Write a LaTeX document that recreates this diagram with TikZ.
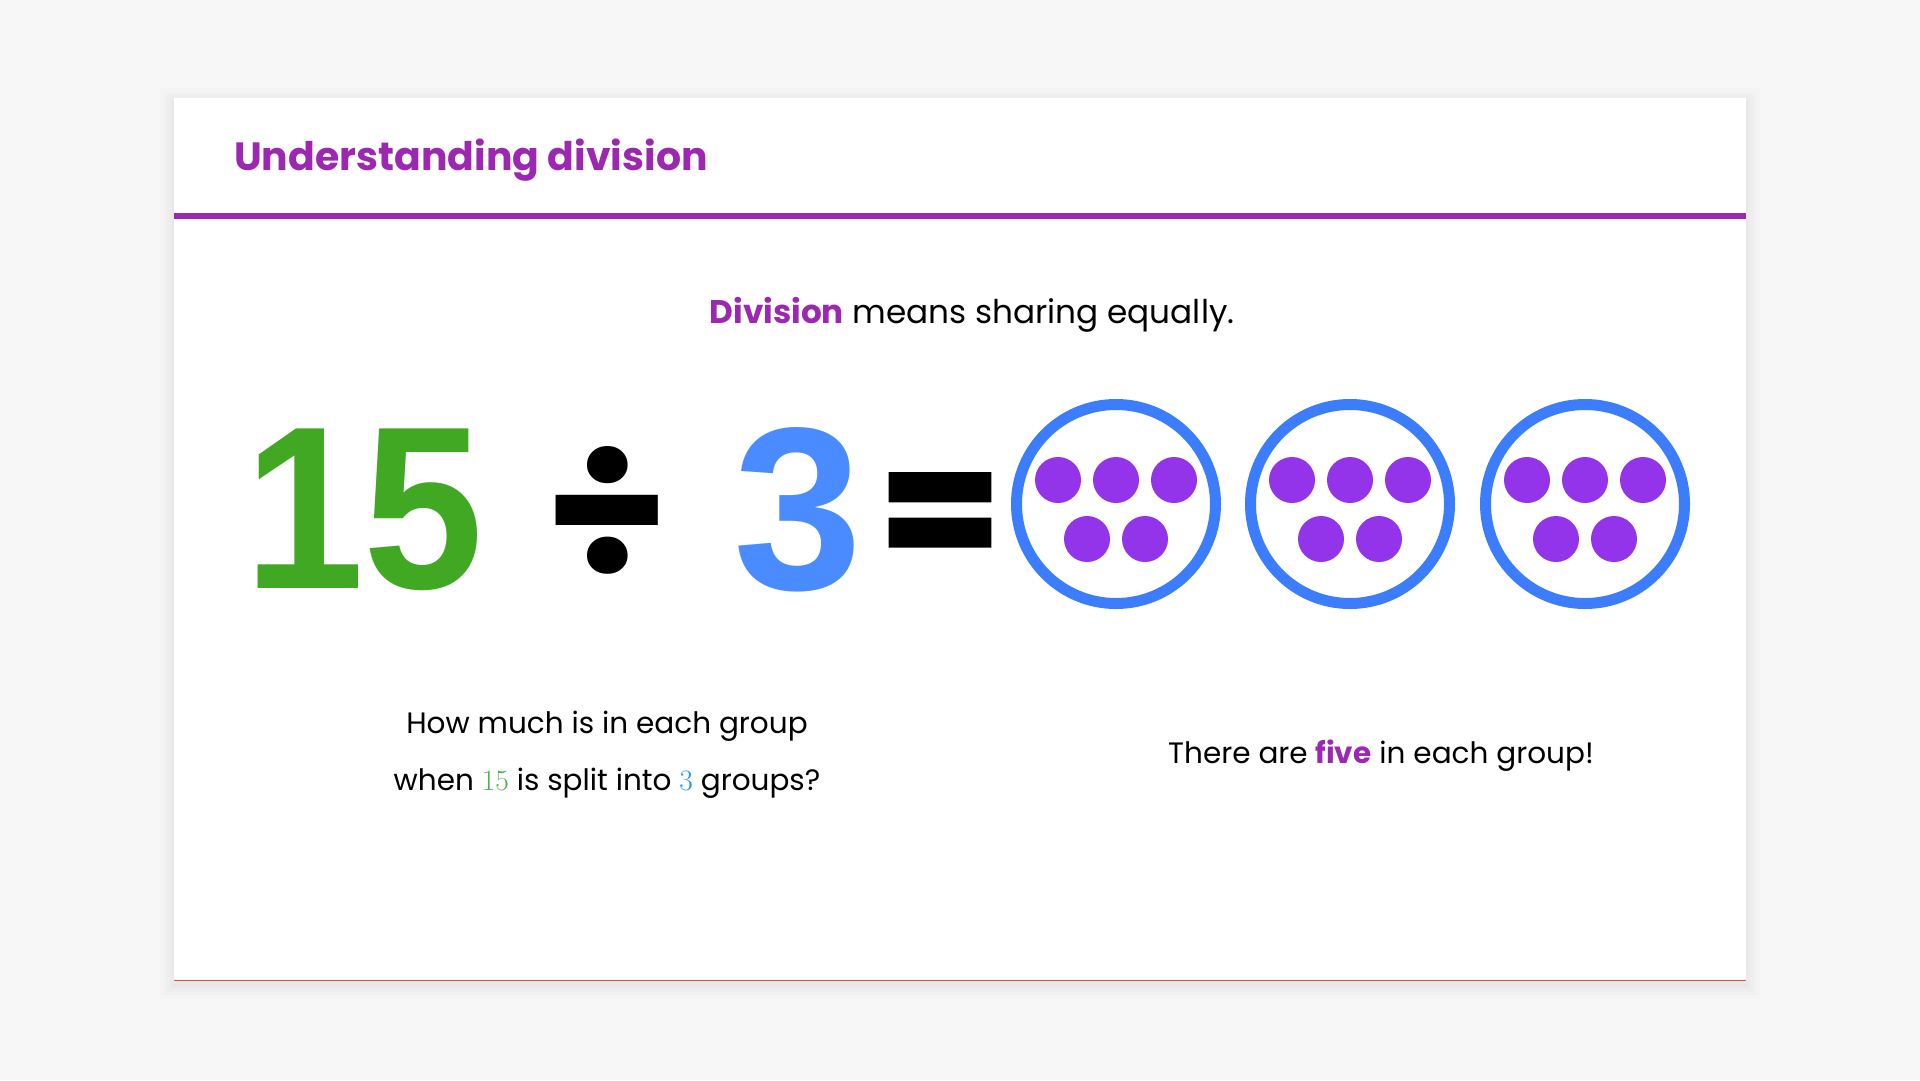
\documentclass[tikz,border=0pt]{standalone}
\usepackage{fontspec}
\setmainfont{Poppins}
\newfontfamily\bignum{Liberation Sans}
\newfontfamily\heavyop[FakeBold=1.8]{Poppins}
\newfontfamily\serifnum{Latin Modern Roman}
\usepackage{xcolor}
\usepackage{tikz}

\definecolor{pagegray}{HTML}{F7F7F7}
\definecolor{titlepurple}{HTML}{9C27B0}
\definecolor{dotpurple}{HTML}{9333EA}
\definecolor{ringblue}{HTML}{3B7DFD}
\definecolor{threeblue}{HTML}{4A8CFF}
\definecolor{fifteengreen}{HTML}{41A823}
\definecolor{smallgreen}{HTML}{4CAF50}
\definecolor{smallblue}{HTML}{2196F3}
\definecolor{edgered}{HTML}{E04B3F}

\tikzset{
    bigsym/.style={inner sep=0pt, font=\bignum\bfseries\fontsize{232}{232}\selectfont},
    opsym/.style={inner sep=0pt, font=\bfseries\fontsize{200}{200}\selectfont},
    ring/.style={circle, draw=ringblue, line width=11pt, minimum size=199pt, inner sep=0pt},
    dot/.style={fill=dotpurple},
    bodytext/.style={font=\fontsize{29.5}{57}\selectfont, align=center, inner sep=0pt}
}

\begin{document}
\begin{tikzpicture}[x=1pt, y=-1pt]
    % page and card
    \fill[pagegray] (0,0) rectangle (1920,1080);
    \useasboundingbox (0,0) rectangle (1920,1080);
    \foreach \s in {14,10,7,4,2} {
        \fill[black, opacity=0.012] (174-\s,98-\s+4) rectangle (1746+\s,981+\s+4);
    }
    \fill[white] (174,98) rectangle (1746,981);
    \draw[edgered, line width=1.5pt] (174,980.5) -- (1746,980.5);

    % heading
    \node[anchor=base west, inner sep=0pt, text=titlepurple,
          font=\bfseries\fontsize{39.4}{48}\selectfont] (title) at (234,170) {Understanding division};
    \draw[titlepurple, line width=6pt] (174,216) -- (1746,216);

    \node[anchor=base, inner sep=0pt, font=\fontsize{32.7}{40}\selectfont] (subtitle) at (972,323)
        {\textcolor{titlepurple}{\bfseries Division} means sharing equally.};

    % the sum
    \node[bigsym, text=fifteengreen, xscale=0.93] (fifteen) at (364,510) {15};
    \node[opsym] (divsign) at (607,513) {÷};
    \node[bigsym, text=threeblue] (three) at (798,510) {3};
    \node[inner sep=0pt, font=\heavyop\bfseries\fontsize{178}{178}\selectfont] (eqsign) at (940,523) {=};

    % three groups of five
    \foreach \cx [count=\g] in {1116,1350,1585} {
        \node[ring] (group\g) at (\cx,504) {};
        \foreach \dx/\dy in {-58/-24, 0/-24, 58/-24, -29/35, 29/35} {
            \fill[dot] (\cx+\dx,504+\dy) circle[radius=23pt];
        }
    }

    % explanations
    \node[bodytext, anchor=base] (question) at (607,790)
        {How much is in each group\\
         when \textcolor{smallgreen}{\serifnum 15} is split into \textcolor{smallblue}{\serifnum 3} groups?};
    \node[bodytext, anchor=base] (answer) at (1381,763)
        {There are \textcolor{titlepurple}{\bfseries five} in each group!};
\end{tikzpicture}
\end{document}
